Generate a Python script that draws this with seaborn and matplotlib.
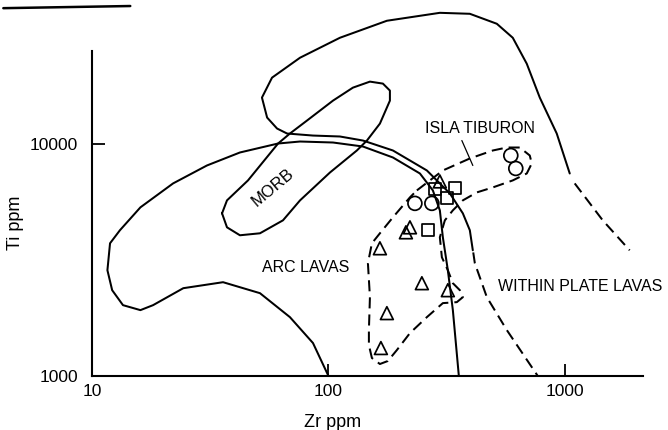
"""
Ti-Zr discrimination diagram (Zr ppm vs Ti ppm, log-log) with the
arc lavas / MORB / within plate fields and the Isla Tiburon samples.
"""

import matplotlib
matplotlib.use("Agg")
import matplotlib.pyplot as plt
from matplotlib.lines import Line2D
import seaborn as sns

# --------------------------
# Data (Zr ppm, Ti ppm)
# --------------------------

# arc lavas field boundary (open, runs from the Zr axis round to the Zr axis)
arc_zr = [100, 86.0, 68.7, 51.3, 35.8, 24.3, 18.1, 16.0, 13.5, 12.15, 11.6,
          11.9, 13.1, 16.0, 22.0, 30.6, 42.2, 61.2, 75.8, 104.5, 139.9,
          187.4, 243.8, 276.6, 296.1, 304.9, 320.1, 336.1, 356.3]
arc_ti = [1000, 1386, 1791, 2271, 2532, 2386, 2017, 1920, 2017, 2339, 2851,
          3722, 4234, 5314, 6736, 8045, 9150, 10000, 10200, 10100, 9707,
          8708, 7432, 6285, 5158, 3951, 2851, 1920, 1000]

# within plate field boundary, solid part
wpl_zr = [408.3, 396.6, 370.5, 326.4, 260.9, 187.4, 139.9, 111.8, 86.0,
          66.8, 60.6, 55.0, 52.3, 57.7, 75.8, 111.8, 176.7, 296.1, 396.6,
          515.9, 602.7, 690.7, 784.1, 925.0, 1050]
wpl_ti = [3473, 4234, 5007, 6101, 7657, 9333, 10300, 10720, 10820,
          11040, 11600, 12930, 15760, 19200, 23390, 28500, 33730, 36490, 36140,
          32740, 28500, 22040, 15760, 11040, 7432]

# within plate field boundary, dashed parts
wpl_right_zr = [1102, 1448, 1883]
wpl_right_ti = [6736, 4673, 3473]
wpl_low_zr = [410, 416.4, 468.1, 568.6, 768.9]
wpl_low_ti = [3400, 3055, 2183, 1576, 1000]

# MORB field (closed)
morb_zr = [35.45, 37.2, 42.2, 51.3, 64.2, 75.8, 101.5, 131.9, 145.5, 165.1,
           182.0, 182.0, 170.0, 149.8, 126.9, 104.5, 81.1, 68.7, 61.2, 45.65,
           37.2, 35.45]
morb_ti = [5007, 4360, 4030, 4110, 4673, 5694, 7506, 9333, 10300, 12180,
           15290, 16890, 18100, 18460, 17390, 15290, 12550, 11040, 10000, 6939,
           5694, 5007]

# Isla Tiburon envelope (closed, dashed)
tib_zr = [236.7, 304.9, 396.6, 496.3, 568.6, 645.2, 711.2, 725.3, 690.7,
          602.7, 496.3, 424.6, 370.5, 336.1, 310.9, 296.1, 302.0, 320.1,
          336.1, 359.8, 370.5, 349.4, 304.9, 260.9, 221.2, 194.8, 178.4,
          165.1, 152.7, 148.3, 148.3, 149.8, 146.9, 152.7, 165.1, 187.4,
          221.2, 236.7]
tib_ti = [6285, 7657, 8623, 9333, 9612, 9612, 8882, 8207, 7432,
          6939, 6474, 6162, 5694, 5158, 4673, 3951, 3241, 2851,
          2507, 2339, 2183, 2078, 2058, 1791, 1529, 1293, 1160,
          1126, 1195, 1359, 1576, 2183, 3055, 3722, 4110, 4813,
          5865, 6285]

# label pointer for ISLA TIBURON
pointer_zr = [366.9, 408.3]
pointer_ti = [10300, 8045]

# samples
tri_zr = [296.1, 221.2, 212.7, 165.1, 248.5, 320.1, 176.7, 166.7]
tri_ti = [6871, 4360, 4150, 3543, 2507, 2339, 1864, 1319]
sq_zr = [282.0, 342.7, 317.0, 263.4]
sq_ti = [6347, 6410, 5807, 4234]
circ_zr = [591.2, 620.6, 232.2, 273.9]
circ_ti = [8882, 7811, 5528, 5528]

x_ticks = [10, 100, 1000]
y_ticks = [1000, 10000]

# --------------------------
# Plot
# --------------------------

sns.set_style("white")
plt.rcParams["font.family"] = ["Liberation Sans", "DejaVu Sans"]
plt.rcParams["text.color"] = "black"
plt.rcParams["axes.labelcolor"] = "black"

fig = plt.figure(figsize=(6.68, 4.3), dpi=100)
ax = fig.add_axes([0.138, 0.1256, 0.825, 0.7558])
ax.set_xscale("log")
ax.set_yscale("log")

solid = dict(color="black", lw=1.45, sort=False, estimator=None, clip_on=False)
dashed = dict(solid, linestyle=(0, (5.5, 3)))

sns.lineplot(x=arc_zr, y=arc_ti, ax=ax, **solid)
sns.lineplot(x=wpl_zr, y=wpl_ti, ax=ax, **solid)
sns.lineplot(x=morb_zr, y=morb_ti, ax=ax, **solid)
sns.lineplot(x=wpl_right_zr, y=wpl_right_ti, ax=ax, **dashed)
sns.lineplot(x=wpl_low_zr, y=wpl_low_ti, ax=ax, **dashed)
sns.lineplot(x=tib_zr, y=tib_ti, ax=ax, **dashed)
sns.lineplot(x=pointer_zr, y=pointer_ti, ax=ax, color="black", lw=0.9,
             sort=False, estimator=None)

mk = dict(facecolor="none", edgecolor="black", linewidth=1.25, zorder=3)
sns.scatterplot(x=tri_zr, y=tri_ti, marker="^", s=85, ax=ax, **mk)
sns.scatterplot(x=sq_zr, y=sq_ti, marker="s", s=75, ax=ax, **mk)
sns.scatterplot(x=circ_zr, y=circ_ti, marker="o", s=100, ax=ax, **mk)

# field labels
ax.text(80.3, 2936, "ARC LAVAS", fontsize=11.5, ha="center", va="center")
ax.text(1157, 2434, "WITHIN PLATE LAVAS", fontsize=11.5, ha="center",
        va="center")
ax.text(437, 11600, "ISLA TIBURON", fontsize=11.5, ha="center", va="center")
ax.text(58.3, 6474, "MORB", fontsize=12, rotation=40,
        ha="center", va="center", rotation_mode="anchor")

ax.set_xlim(10, 2150)
ax.set_ylim(1000, 25000)
ax.set_xticks(x_ticks)
ax.set_xticklabels([str(v) for v in x_ticks])
ax.set_yticks(y_ticks)
ax.set_yticklabels([str(v) for v in y_ticks])
ax.minorticks_off()
ax.tick_params(left=True, bottom=True, direction="in", length=9, width=1.3,
               labelsize=12.5, colors="black")
ax.tick_params(axis="y", pad=10)
ax.tick_params(axis="x", pad=6)

for side in ["top", "right"]:
    ax.spines[side].set_visible(False)
for side in ["left", "bottom"]:
    ax.spines[side].set_color("black")
    ax.spines[side].set_linewidth(1.5)

ax.set_xlabel("Zr ppm", fontsize=13)
ax.set_ylabel("Ti ppm", fontsize=13)
ax.xaxis.set_label_coords(0.437, -0.117)
ax.yaxis.set_label_coords(-0.123, 0.471)

# rule left at the top of the scanned page
fig.add_artist(Line2D([0.005, 0.195], [0.981, 0.986], color="black", lw=1.8,
                      transform=fig.transFigure))

fig.savefig("out.png", dpi=100)
